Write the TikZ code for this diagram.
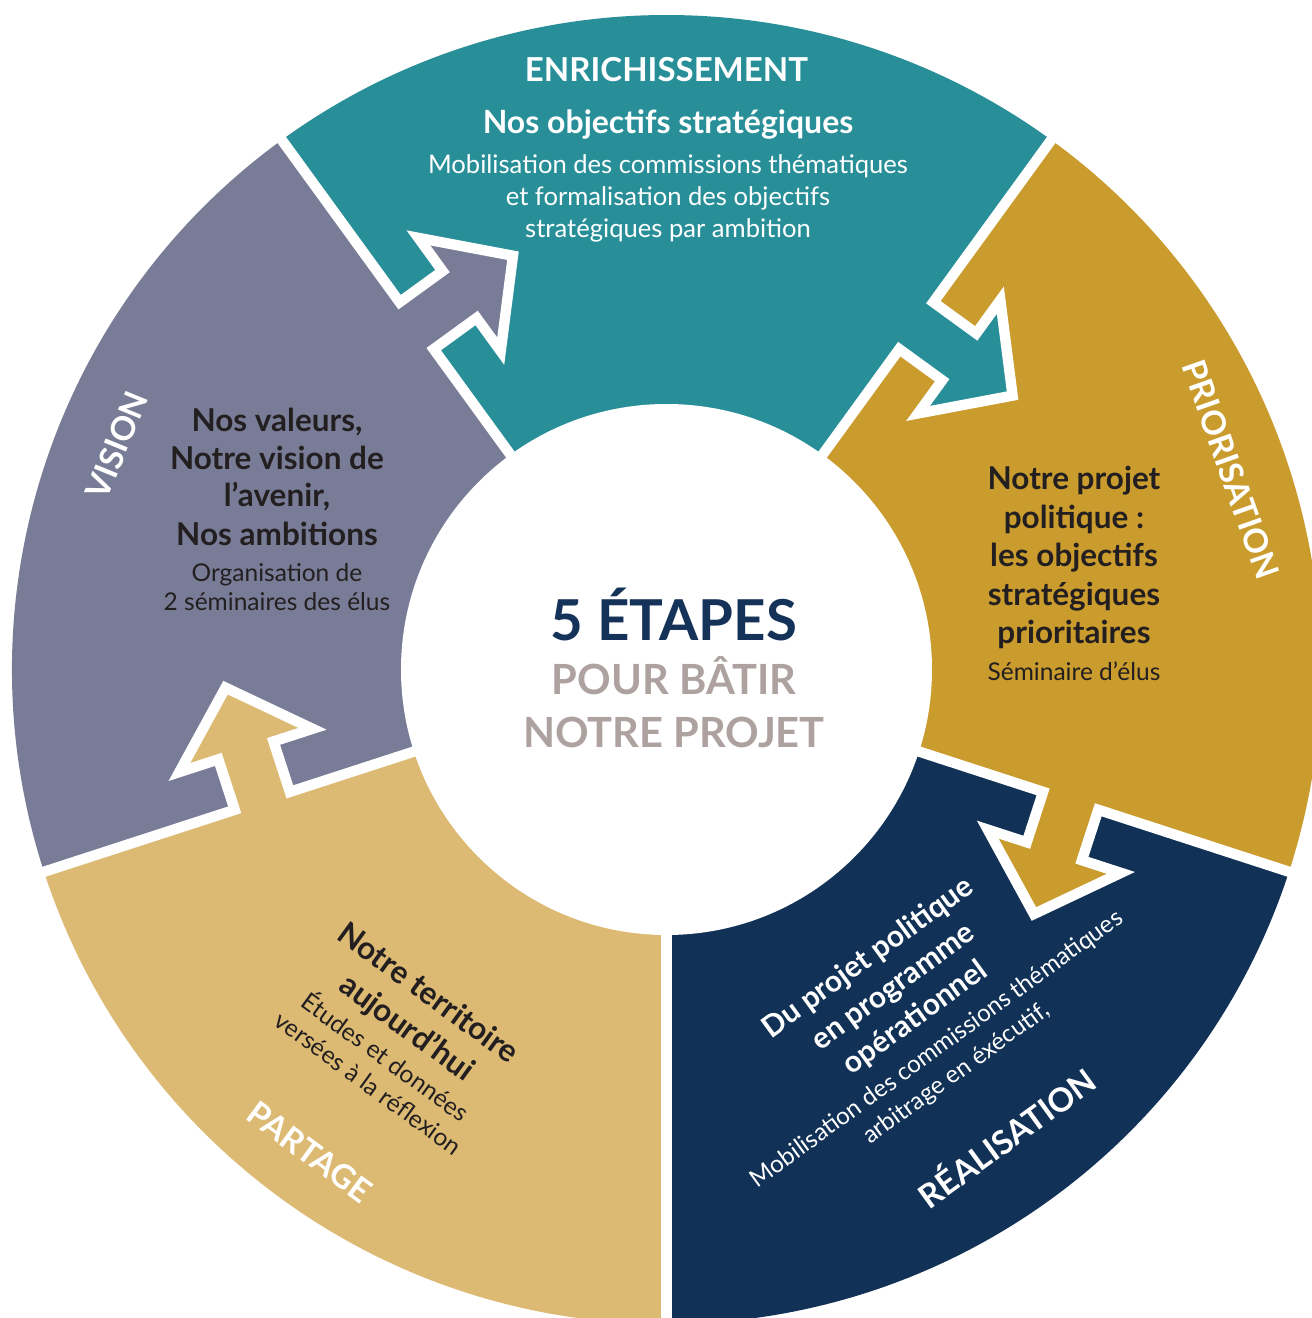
\documentclass[tikz,border=0pt]{standalone}
\usepackage{fontspec}
\setmainfont{Lato}
\definecolor{cTeal}{RGB}{40,143,153}
\definecolor{cGold}{RGB}{202,155,45}
\definecolor{cNavy}{RGB}{17,50,86}
\definecolor{cTan}{RGB}{220,186,115}
\definecolor{cGray}{RGB}{121,124,150}
\definecolor{cTitle}{RGB}{21,50,88}
\definecolor{cSub}{RGB}{173,162,160}
\definecolor{cInk}{RGB}{35,31,32}
\begin{document}
\begin{tikzpicture}[x=0.5pt,y=0.5pt,
  gapline/.style={draw=white,line width=5.2pt,miter limit=20},
  hdr/.style={text=white,font=\bfseries\fontsize{16.5}{19}\selectfont,inner sep=0pt,text height=11.9pt,text depth=0pt},
  bl/.style={font=\bfseries\fontsize{15.75}{18}\selectfont,inner sep=0pt,anchor=base,text=cInk},
  rl/.style={font=\fontsize{12.25}{15}\selectfont,inner sep=0pt,anchor=base,text=cInk},
  rlw/.style={font=\fontsize{12.8}{15}\selectfont,inner sep=0pt,anchor=base,text=white},
  blw/.style={font=\bfseries\fontsize{15}{18}\selectfont,inner sep=0pt,anchor=base,text=white},
  ctr/.style={font=\bfseries\fontsize{20.8}{24}\selectfont,inner sep=0pt,anchor=base,text=cSub}]
\useasboundingbox (-666.5,-648.5) rectangle (645.5,669.5);
\fill[white] (-666.5,-648.5) rectangle (645.5,669.5);
% sectors
\fill[cTan]  (0,0) -- (198:654.5) arc[start angle=198,end angle=270,radius=654.5] -- cycle;
\fill[cGray] (0,0) -- (126:654.5) arc[start angle=126,end angle=198,radius=654.5] -- cycle;
\fill[cTeal] (0,0) -- (54:654.5) arc[start angle=54,end angle=126,radius=654.5] -- cycle;
\fill[cGold] (0,0) -- (-18:654.5) arc[start angle=-18,end angle=54,radius=654.5] -- cycle;
\fill[cNavy] (0,0) -- (-90:654.5) arc[start angle=-90,end angle=-18,radius=654.5] -- cycle;
% arrow tabs
\foreach \ang/\col in {198/cTan,126/cGray,54/cTeal,-18/cGold}{
  \begin{scope}[rotate=\ang]
    \fill[\col] (454,2) -- (454,-53) -- (495,-53) -- (425,-119) -- (355,-53) -- (396,-53) -- (396,2) -- cycle;
  \end{scope}
}
% white gaps
\foreach \ang in {198,126,54,-18}{
  \begin{scope}[rotate=\ang]
    \draw[gapline] (720,0) -- (454,0) -- (454,-53) -- (495,-53) -- (425,-119) -- (355,-53) -- (396,-53) -- (396,0) -- (200,0);
  \end{scope}
}
\draw[gapline] (270:720) -- (270:200);
\fill[white] (0,0) circle[radius=265.5];
% headers
\node[hdr] (enr) at (90:599.5) {ENRICHISSEMENT};
\node[hdr,rotate=-70.5] (prio) at (19.5:598.8) {PRIORISATION};
\node[hdr,rotate=36] (real) at (-54:580) {RÉALISATION};
\node[hdr,rotate=-36.5] (part) at (233.5:600) {PARTAGE};
\node[hdr,rotate=67.8] (vis) at (157.8:593.6) {VISION};
% teal block
\node[bl,text=white,font=\bfseries\fontsize{16}{18}\selectfont] (t1) at (1.5,535.5) {Nos objectifs stratégiques};
\node[rlw] (t2) at (1.5,495.5) {Mobilisation des commissions thématiques};
\node[rlw] (t3) at (1.5,463.5) {et formalisation des objectifs};
\node[rlw] (t4) at (1.5,431.5) {stratégiques par ambition};
% gray block
\node[bl] (g1) at (-389.5,237.8) {Nos valeurs,};
\node[bl] (g2) at (-389.5,199.5) {Notre vision de};
\node[bl] (g3) at (-389.5,162.8) {l’avenir,};
\node[bl] (g4) at (-389.5,124.5) {Nos ambitions};
\node[rl] (g5) at (-389.5,87.8) {Organisation de};
\node[rl] (g6) at (-389.5,59.5) {2 séminaires des élus};
% gold block
\node[bl] (o1) at (407.5,179.5) {Notre projet};
\node[bl] (o2) at (407.5,141.2) {politique :};
\node[bl] (o3) at (407.5,102.8) {les objectifs};
\node[bl] (o4) at (407.5,64.5) {stratégiques};
\node[bl] (o5) at (407.5,26.2) {prioritaires};
\node[rl] (o6) at (407.5,-10.5) {Séminaire d’élus};
% navy block
\begin{scope}[shift={(201,-287.5)},rotate=36,transform shape]
  \node[blw] (n1) at (0,-10) {Du projet politique};
  \node[blw] (n2) at (3,-48.5) {en programme};
  \node[blw] (n3) at (3,-86.5) {opérationnel};
  \node[rlw,font=\fontsize{12.1}{15}\selectfont] (n4) at (2,-122.5) {Mobilisation des commissions thématiques};
  \node[rlw,font=\fontsize{12.1}{15}\selectfont] (n5) at (3.5,-153.5) {arbitrage en éxécutif,};
\end{scope}
% tan block
\begin{scope}[shift={(-238.5,-324)},rotate=-36,transform shape]
  \node[bl] (p1) at (0,-10) {Notre territoire};
  \node[bl] (p2) at (3,-50.4) {aujourd’hui};
  \node[rl] (p3) at (3,-85.5) {Études et données};
  \node[rl] (p4) at (4.7,-116.5) {versées à la réflexion};
\end{scope}
% center
\node[ctr,text=cTitle,font=\bfseries\fontsize{28.2}{31}\selectfont] (c1) at (7.5,29.5) {5 ÉTAPES};
\node[ctr] (c2) at (7.5,-24.5) {POUR BÂTIR};
\node[ctr] (c3) at (7.5,-77.5) {NOTRE PROJET};
\end{tikzpicture}
\end{document}
